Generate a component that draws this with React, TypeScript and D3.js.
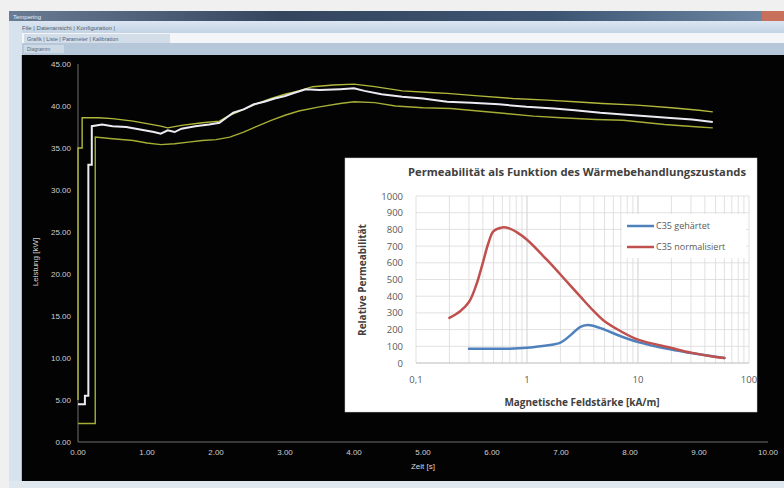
import React from "react";
import * as d3 from "d3";

// ---------- Main chart data (Zeit [s] -> Leistung [kW]) ----------
const mainTicksX = [0, 1, 2, 3, 4, 5, 6, 7, 8, 9, 10];
const mainTicksY = [0, 5, 10, 15, 20, 25, 30, 35, 40, 45];

const whiteT = [0, 0.1, 0.1, 0.15, 0.15, 0.2, 0.2, 0.35, 0.5, 0.7, 0.9, 1.1, 1.2, 1.3, 1.4, 1.5, 1.7, 1.9, 2.05, 2.15, 2.25, 2.4, 2.55, 2.7, 2.85, 3.0, 3.15, 3.3, 3.5, 3.8, 4.0, 4.15, 4.4, 4.7, 5.0, 5.35, 5.7, 6.1, 6.5, 6.9, 7.2, 7.57, 7.9, 8.2, 8.54, 8.9, 9.2];
const whiteV = [4.5, 4.5, 5.5, 5.5, 33, 33, 37.6, 37.8, 37.6, 37.5, 37.2, 36.9, 36.7, 37.1, 36.9, 37.3, 37.6, 37.8, 38.0, 38.6, 39.2, 39.6, 40.2, 40.5, 40.9, 41.2, 41.6, 42.0, 41.9, 42.0, 42.1, 41.8, 41.4, 41.1, 40.9, 40.5, 40.4, 40.2, 39.9, 39.7, 39.5, 39.2, 39.0, 38.8, 38.6, 38.4, 38.1];

const upperT = [0, 0, 0.06, 0.06, 0.3, 0.5, 0.8, 1.0, 1.2, 1.3, 1.5, 1.8, 2.05, 2.2, 2.4, 2.6, 2.8, 3.0, 3.2, 3.4, 3.7, 4.0, 4.3, 4.7, 5.1, 5.35, 5.8, 6.3, 6.8, 7.2, 7.6, 8.1, 8.6, 9.0, 9.2];
const upperV = [5, 35, 35, 38.6, 38.6, 38.5, 38.2, 37.9, 37.6, 37.4, 37.7, 38.0, 38.2, 38.9, 39.6, 40.3, 40.9, 41.4, 41.8, 42.3, 42.5, 42.6, 42.3, 41.8, 41.6, 41.5, 41.2, 40.9, 40.7, 40.5, 40.3, 40.1, 39.8, 39.5, 39.3];

const lowerT = [0, 0.25, 0.25, 0.5, 0.8, 1.0, 1.2, 1.4, 1.6, 1.8, 2.0, 2.2, 2.4, 2.6, 2.8, 3.0, 3.2, 3.5, 3.8, 4.0, 4.3, 4.6, 5.0, 5.4, 5.8, 6.2, 6.6, 7.0, 7.5, 7.9, 8.5, 9.0, 9.2];
const lowerV = [2.2, 2.2, 36.3, 36.1, 35.9, 35.6, 35.4, 35.5, 35.7, 35.9, 36.0, 36.3, 36.9, 37.6, 38.3, 38.9, 39.4, 39.9, 40.3, 40.5, 40.4, 40.0, 39.8, 39.7, 39.4, 39.1, 38.8, 38.6, 38.4, 38.3, 37.8, 37.5, 37.4];

// ---------- Inset chart data (Magnetische Feldstärke [kA/m] -> Relative Permeabilität) ----------
const insetTicksX = [0.1, 1, 10, 100];
const insetTickLabelsX = ["0,1", "1", "10", "100"];
const insetTicksY = [0, 100, 200, 300, 400, 500, 600, 700, 800, 900, 1000];

const normH = [0.2, 0.25, 0.3, 0.35, 0.4, 0.45, 0.5, 0.6, 0.7, 0.8, 1.0, 1.5, 2, 3, 4, 5, 7, 10, 20, 30, 50, 60];
const normMu = [270, 310, 365, 470, 600, 720, 790, 812, 805, 785, 738, 620, 530, 400, 310, 250, 190, 140, 90, 62, 36, 30];

const hardH = [0.3, 0.5, 0.7, 1.0, 1.5, 2.0, 2.5, 3.0, 3.5, 4, 5, 7, 10, 20, 30, 60];
const hardMu = [85, 85, 86, 92, 105, 122, 170, 215, 228, 222, 200, 160, 125, 80, 60, 30];

const seriesNames = ["C35 gehärtet", "C35 normalisiert"];

export default function App() {
  // main scales
  const xM = d3.scaleLinear().domain([0, 10]).range([78, 768]);
  const yM = d3.scaleLinear().domain([0, 45]).range([442, 64]);
  const lineM = d3
    .line<[number, number]>()
    .x((d) => xM(d[0]))
    .y((d) => yM(d[1]));
  const zip = (a: number[], b: number[]) => a.map((v, i) => [v, b[i]] as [number, number]);

  // inset scales
  const xI = d3.scaleLog().domain([0.1, 100]).range([416, 749]);
  const yI = d3.scaleLinear().domain([0, 1000]).range([363, 196]);
  const lineI = d3
    .line<[number, number]>()
    .x((d) => xI(d[0]))
    .y((d) => yI(d[1]))
    .curve(d3.curveCatmullRom.alpha(0.5));

  const minorX: number[] = [];
  [0.1, 1, 10].forEach((dec) => {
    for (let k = 1; k <= 10; k++) minorX.push(dec * k);
  });

  const font = "'Liberation Sans', Arial, sans-serif";
  const insetFont = "'Open Sans', 'Liberation Sans', sans-serif";

  return (
    <svg
      width={784}
      height={488}
      style={{ position: "fixed", left: 0, top: 0, display: "block" }}
      fontFamily={font}
    >
      <defs>
        <linearGradient id="title" x1="0" x2="1" y1="0" y2="0">
          <stop offset="0" stopColor="#6a7c94" />
          <stop offset="0.35" stopColor="#34455e" />
          <stop offset="0.7" stopColor="#3e5572" />
          <stop offset="1" stopColor="#6f8aa6" />
        </linearGradient>
        <linearGradient id="menu" x1="0" x2="0" y1="0" y2="1">
          <stop offset="0" stopColor="#dbe6f1" />
          <stop offset="1" stopColor="#c3d4e5" />
        </linearGradient>
      </defs>
      {/* page background */}
      <rect x={0} y={0} width={784} height={488} fill="#f0f0f0" />
      {/* title bar */}
      <rect x={9} y={11} width={775} height={10} fill="url(#title)" />
      <rect x={762} y={11} width={22} height={10} fill="#c8705c" />
      <text x={13} y={19} fontSize={6} fill="#e8eef6">
        Tempering
      </text>
      {/* menu bar */}
      <rect x={9} y={21} width={775} height={12} fill="url(#menu)" />
      <text x={22} y={30} fontSize={6} fill="#506070">
        File   |  Datenansicht  |  Konfiguration  |
      </text>
      {/* tab row */}
      <rect x={9} y={33} width={775} height={10} fill="#f3f5f8" />
      <rect x={24} y={34} width={146} height={9} fill="#d3dde8" />
      <text x={27} y={41} fontSize={5.5} fill="#50607a">
        Grafik   |  Liste  |  Parameter  |  Kalibration
      </text>
      {/* toolbar */}
      <rect x={9} y={43} width={775} height={12} fill="#b5c7d9" />
      <rect x={24} y={45} width={40} height={8} fill="#cdd9e5" />
      <text x={27} y={51} fontSize={5} fill="#5a6a7e">
        Diagramm
      </text>
      {/* left sidebar */}
      <rect x={9} y={21} width={13} height={461} fill="#d6e2ee" />
      <line x1={21.5} y1={55} x2={21.5} y2={481} stroke="#aabbd0" />
      {/* black plot area */}
      <rect x={22} y={55} width={762} height={426} fill="#030303" />
      {/* bottom strip */}
      <rect x={9} y={481} width={775} height={7} fill="#dfe7ef" />

      {/* main axes */}
      <line x1={xM(0)} y1={yM(45)} x2={xM(0)} y2={yM(0)} stroke="#6e6e6e" />
      <line x1={xM(0)} y1={yM(0)} x2={xM(10)} y2={yM(0)} stroke="#6e6e6e" />
      {mainTicksY.map((v) => (
        <text key={"my" + v} x={71} y={yM(v) + 3} fontSize={8} fill="#cfcfcf" textAnchor="end">
          {v.toFixed(2)}
        </text>
      ))}
      {mainTicksX.map((v) => (
        <text key={"mx" + v} x={xM(v)} y={455} fontSize={8} fill="#cfcfcf" textAnchor="middle">
          {v.toFixed(2)}
        </text>
      ))}
      <text x={423} y={469} fontSize={8} fill="#d8d8d8" textAnchor="middle">
        Zeit [s]
      </text>
      <text
        transform={`translate(38,262) rotate(-90)`}
        fontSize={8}
        fill="#d0d0d0"
        textAnchor="middle"
      >
        Leistung [kW]
      </text>

      {/* main series */}
      <path d={lineM(zip(upperT, upperV)) || ""} fill="none" stroke="#b2b83c" strokeWidth={1.4} />
      <path d={lineM(zip(lowerT, lowerV)) || ""} fill="none" stroke="#a6ad36" strokeWidth={1.4} />
      <path d={lineM(zip(whiteT, whiteV)) || ""} fill="none" stroke="#ecebf4" strokeWidth={2} />

      {/* inset chart */}
      <rect x={345} y={158} width={412} height={254} fill="#ffffff" stroke="#d0d0d0" strokeWidth={0.5} />
      <text
        x={577}
        y={176}
        fontSize={10}
        fontWeight="bold"
        fill="#404040"
        textAnchor="middle"
        fontFamily={insetFont}
        textLength={338}
        lengthAdjust="spacingAndGlyphs"
      >
        Permeabilität als Funktion des Wärmebehandlungszustands
      </text>
      {/* grid */}
      {minorX.map((v, i) => (
        <line key={"gx" + i} x1={xI(v)} x2={xI(v)} y1={yI(1000)} y2={yI(0)} stroke="#d9d9d9" strokeWidth={0.8} />
      ))}
      {insetTicksY.map((v) => (
        <line key={"gy" + v} x1={xI(0.1)} x2={xI(100)} y1={yI(v)} y2={yI(v)} stroke="#d9d9d9" strokeWidth={0.8} />
      ))}
      <line x1={xI(0.1)} x2={xI(100)} y1={yI(0)} y2={yI(0)} stroke="#bfbfbf" strokeWidth={0.8} />
      {insetTicksY.map((v) => (
        <text key={"iy" + v} x={403} y={yI(v) + 3.5} fontSize={9.5} fill="#595959" textAnchor="end" fontFamily={insetFont}>
          {v}
        </text>
      ))}
      {insetTicksX.map((v, i) => (
        <text key={"ix" + v} x={xI(v)} y={383} fontSize={9.5} fill="#595959" textAnchor="middle" fontFamily={insetFont}>
          {insetTickLabelsX[i]}
        </text>
      ))}
      <text x={582} y={406} fontSize={10} fontWeight="bold" fill="#404040" textAnchor="middle" fontFamily={insetFont}>
        Magnetische Feldstärke [kA/m]
      </text>
      <text
        transform={`translate(366,280) rotate(-90)`}
        fontSize={10}
        fontWeight="bold"
        fill="#404040"
        textAnchor="middle"
        fontFamily={insetFont}
      >
        Relative Permeabilität
      </text>
      {/* series */}
      <path d={lineI(zip(hardH, hardMu)) || ""} fill="none" stroke="#4f81bd" strokeWidth={2.5} strokeLinecap="round" />
      <path d={lineI(zip(normH, normMu)) || ""} fill="none" stroke="#c0504d" strokeWidth={2.5} strokeLinecap="round" />
      {/* legend */}
      <rect x={622} y={214} width={124} height={44} fill="#ffffff" />
      <line x1={627} x2={654} y1={226} y2={226} stroke="#4f81bd" strokeWidth={2.5} />
      <text x={656} y={229} fontSize={9} fill="#595959" fontFamily={insetFont}>
        {seriesNames[0]}
      </text>
      <line x1={627} x2={654} y1={247} y2={247} stroke="#c0504d" strokeWidth={2.5} />
      <text x={656} y={250} fontSize={9} fill="#595959" fontFamily={insetFont}>
        {seriesNames[1]}
      </text>
    </svg>
  );
}
